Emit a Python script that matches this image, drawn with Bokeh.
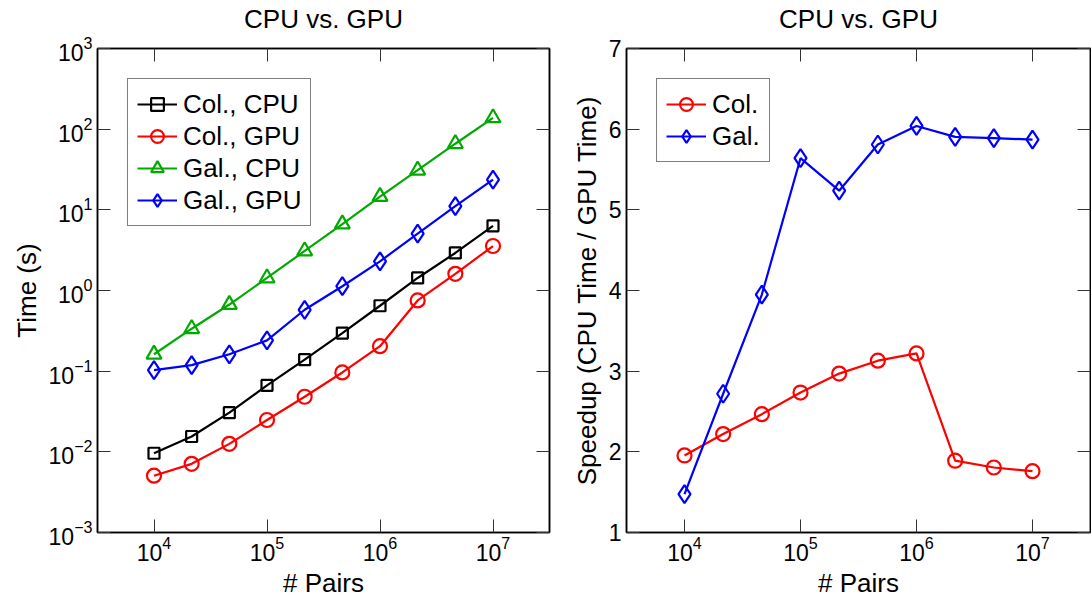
from bokeh.plotting import figure
from bokeh.layouts import row
from bokeh.models import LogAxis, LinearAxis, FixedTicker, Range1d, CustomJSTickFormatter
from bokeh.embed import file_html
from bokeh.resources import INLINE

# ---------------- data ----------------
pairs = [1e4, 2.154e4, 4.642e4, 1e5, 2.154e5, 4.642e5, 1e6, 2.154e6, 4.642e6, 1e7]
col_cpu = [0.0096, 0.0155, 0.0306, 0.0665, 0.139, 0.297, 0.647, 1.43, 2.92, 6.34]
col_gpu = [0.00506, 0.0071, 0.01256, 0.0248, 0.0482, 0.0964, 0.204, 0.753, 1.61, 3.56]
gal_cpu = [0.162, 0.336, 0.67, 1.43, 3.09, 6.66, 14.6, 31.0, 66.0, 138.0]
gal_gpu = [0.103, 0.119, 0.162, 0.241, 0.577, 1.13, 2.30, 5.06, 11.1, 23.7]
speedup_col = [1.955, 2.22, 2.467, 2.735, 2.97, 3.13, 3.22, 1.89, 1.806, 1.76]
speedup_gal = [1.475, 2.72, 3.95, 5.64, 5.237, 5.81, 6.04, 5.905, 5.89, 5.87]

x_ticks = [1e4, 1e5, 1e6, 1e7]
time_ticks = [1e-3, 1e-2, 1e-1, 1e0, 1e1, 1e2, 1e3]
speed_ticks = [1, 2, 3, 4, 5, 6, 7]

FONT = "Liberation Sans"
BLACK = "#000000"
RED = "#ff0000"
GREEN = "#00aa00"
BLUE = "#0000ff"


def style_axis(ax, show_labels=True, standoff=4, label_standoff=2):
    ax.axis_line_color = BLACK
    ax.axis_line_width = 1.5
    ax.major_tick_in = 13
    ax.major_tick_out = 0
    ax.major_tick_line_color = "#333333"
    ax.major_tick_line_width = 1
    ax.minor_tick_line_color = None
    ax.major_label_text_font = FONT
    ax.major_label_text_font_size = "23px"
    ax.major_label_text_color = BLACK
    ax.major_label_standoff = standoff
    ax.axis_label_text_font = FONT
    ax.axis_label_text_font_size = "26px"
    ax.axis_label_text_font_style = "normal"
    ax.axis_label_text_color = BLACK
    ax.axis_label_standoff = label_standoff
    if not show_labels:
        ax.major_label_standoff = 0
        ax.formatter = CustomJSTickFormatter(code="return ''")


def base_fig(width, y_type, y_range, y_ticks, ml, mr):
    p = figure(width=width, height=600, x_axis_type="log", y_axis_type=y_type,
               x_range=Range1d(10 ** 3.5, 10 ** 7.5), y_range=y_range,
               output_backend="svg", toolbar_location=None,
               min_border_left=ml, min_border_right=mr, min_border_top=48,
               min_border_bottom=68)
    p.title.text = "CPU vs. GPU"
    p.title.align = "center"
    p.title.text_font = FONT
    p.title.text_font_size = "26px"
    p.title.text_font_style = "normal"
    p.title.text_color = BLACK
    p.title.standoff = 0
    p.title.padding = dict(left=0, right=0, top=0, bottom=15)
    p.grid.visible = False
    p.outline_line_color = BLACK
    p.outline_line_width = 1.5
    p.xaxis.ticker = FixedTicker(ticks=x_ticks)
    p.yaxis.ticker = FixedTicker(ticks=y_ticks)
    for ax in p.xaxis:
        style_axis(ax, True, 3, 4)
    for ax in p.yaxis:
        style_axis(ax, True, 5, 4)
    p.xaxis.axis_label = "# Pairs"
    XA = LogAxis
    YA = LogAxis if y_type == "log" else LinearAxis
    top = XA(ticker=FixedTicker(ticks=x_ticks))
    right = YA(ticker=FixedTicker(ticks=y_ticks))
    style_axis(top, False)
    style_axis(right, False)
    p.add_layout(top, "above")
    p.add_layout(right, "right")
    return p


def series(p, x, y, color, marker, size, label):
    p.line(x, y, line_color=color, line_width=2.2, legend_label=label)
    p.scatter(x, y, marker=marker, size=size, line_color=color, line_width=2.2,
              fill_color=None, legend_label=label)


def style_legend(p):
    lg = p.legend[0]
    lg.location = "top_left"
    lg.margin = 30
    lg.border_line_color = BLACK
    lg.border_line_width = 1
    lg.background_fill_color = "white"
    lg.background_fill_alpha = 1
    lg.label_text_font = FONT
    lg.label_text_font_size = "26px"
    lg.label_text_color = BLACK
    lg.glyph_width = 40
    lg.glyph_height = 32
    lg.label_height = 32
    lg.spacing = 0
    lg.padding = 9
    lg.label_standoff = 6


# ---------------- left: times ----------------
p1 = base_fig(560, "log", Range1d(1e-3, 1e3), time_ticks, 97, 11)
p1.yaxis[0].axis_label = "Time (s)"
series(p1, pairs, col_cpu, BLACK, "square", 11, "Col., CPU")
series(p1, pairs, col_gpu, RED, "circle", 14, "Col., GPU")
series(p1, pairs, gal_cpu, GREEN, "triangle", 15, "Gal., CPU")
series(p1, pairs, gal_gpu, BLUE, "diamond", 18, "Gal., GPU")
style_legend(p1)

# ---------------- right: speedup ----------------
p2 = base_fig(531, "linear", Range1d(1, 7), speed_ticks, 66, 1)
p2.yaxis[0].axis_label = "Speedup (CPU Time / GPU Time)"
series(p2, pairs, speedup_col, RED, "circle", 14, "Col.")
series(p2, pairs, speedup_gal, BLUE, "diamond", 18, "Gal.")
style_legend(p2)

layout = row(p1, p2)
open("out.html", "w").write(file_html(layout, INLINE))
